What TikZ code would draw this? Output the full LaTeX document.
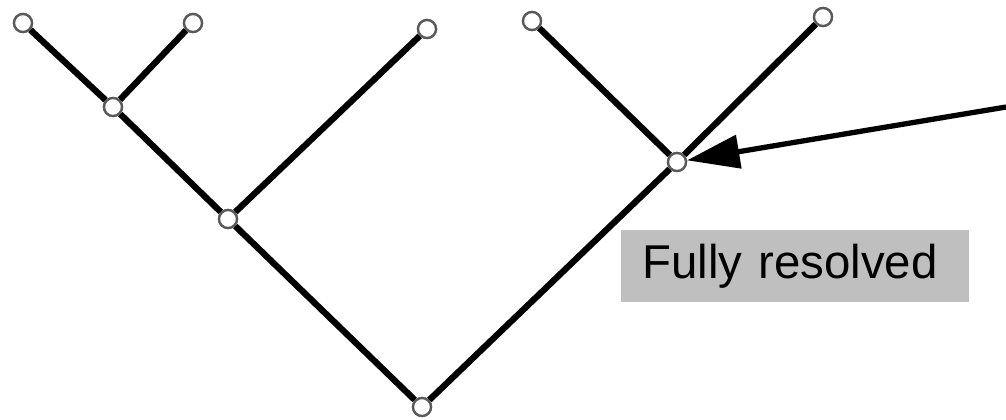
\documentclass[tikz,border=0pt]{standalone}
\usepackage{fontspec}
\setmainfont{Liberation Sans}
\usetikzlibrary{arrows.meta}

\begin{document}
\begin{tikzpicture}[
  x=0.02cm, y=-0.02cm,
  vert/.style={circle, draw=black!65, fill=white, line width=1.3pt,
    minimum size=0.36cm, inner sep=0pt},
  branch/.style={line width=3.6pt},
  labelbox/.style={fill=black!25, anchor=west, text width=6.12cm,
    minimum height=1.44cm, inner xsep=0.42cm, align=left,
    font=\fontsize{27}{31}\selectfont},
]
  \useasboundingbox (0,0) rectangle (1006,419);
  % leaves
  \node[vert] (l1) at (23,23) {};
  \node[vert] (l2) at (193,23) {};
  \node[vert] (l3) at (427,29) {};
  \node[vert] (l4) at (532,21) {};
  \node[vert] (l5) at (823,17) {};
  % inner vertices
  \node[vert] (n1) at (113,107) {};
  \node[vert] (n2) at (228,219) {};
  \node[vert] (n3) at (677,162) {};
  \node[vert] (root) at (422,407) {};
  % branches
  \draw[branch] (l1) -- (n1) (l2) -- (n1) (n1) -- (n2) (l3) -- (n2)
    (n2) -- (root) (l4) -- (n3) (l5) -- (n3) (n3) -- (root);
  \foreach \v in {l1,l2,l3,l4,l5,n1,n2,n3,root}
    \node[vert] at (\v) {};
  % label
  \node[labelbox] (lbl) at (621,266) {Fully resolved};
  \coordinate (src) at (1006,107);
  \draw[line width=3pt, -{Triangle[length=1.05cm, width=0.66cm]}] (src) -- (n3);
\end{tikzpicture}
\end{document}
